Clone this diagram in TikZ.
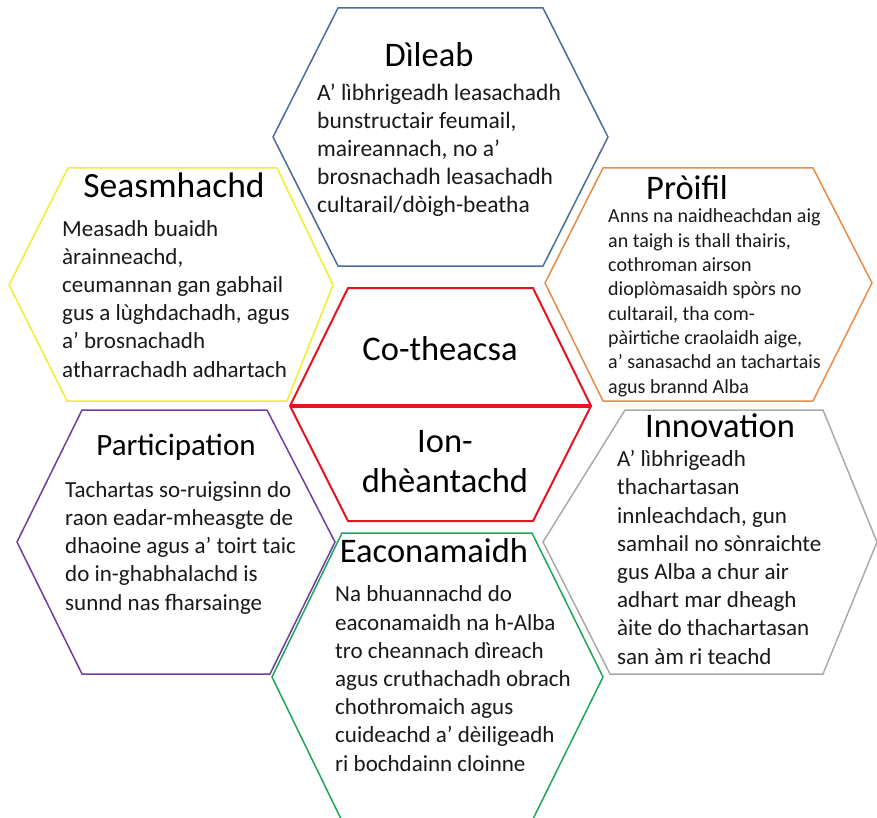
\documentclass[tikz,border=0pt]{standalone}
\usepackage{fontspec}
\setmainfont{Carlito}
\definecolor{hexblue}{RGB}{72,110,155}
\definecolor{hexyellow}{RGB}{240,240,40}
\definecolor{hexorange}{RGB}{230,140,70}
\definecolor{hexred}{RGB}{230,20,30}
\definecolor{hexpurple}{RGB}{112,60,160}
\definecolor{hexgray}{RGB}{170,170,170}
\definecolor{hexgreen}{RGB}{30,165,90}
\tikzset{
  hexline/.style={line width=1.5pt, line join=miter},
  hextitle/.style={anchor=base, inner sep=0pt, font=\fontsize{34.5}{40}\selectfont},
  % multi-line nodes: base = baseline of the last line
  hexbody/.style={anchor=base west, inner sep=0pt, align=left, text=black!90,
    font=\fontsize{23}{28.2}\selectfont},
}
\begin{document}
\begin{tikzpicture}[x=1pt,y=-1pt]
\useasboundingbox (0,0) rectangle (877,818);
\fill[white] (0,0) rectangle (877,818);

\draw[hexline,hexblue] (338,8)--(543,8)--(608,137)--(543,266)--(338,266)--(273,137)--cycle;
\node[hextitle] (dileabT) at (429,67) {Dìleab};
\node[hexbody,font=\fontsize{23.5}{28.2}\selectfont] (dileabB) at (317,213) {A’ lìbhrigeadh leasachadh\\bunstructair feumail,\\maireannach, no a’\\brosnachadh leasachadh\\cultarail/dòigh-beatha};

\draw[hexline,hexyellow] (68,168)--(277,168)--(333,285)--(287,401)--(67,401)--(9,285)--cycle;
\node[hextitle,font=\fontsize{35.5}{40}\selectfont] (seasT) at (174,198) {Seasmhachd};
\node[hexbody] (seasB) at (62,377) {Measadh buaidh\\àrainneachd,\\ceumannan gan gabhail\\gus a lùghdachadh, agus\\a’ brosnachadh\\atharrachadh adhartach};

\draw[hexline,hexorange] (603,168)--(813,168)--(872,283)--(813,401)--(603,401)--(545,283)--cycle;
\node[hextitle] (proifilT) at (687,200) {Pròifil};
\node[hexbody,font=\fontsize{20}{24.3}\selectfont] (proifilB) at (608,393) {Anns na naidheachdan aig\\an taigh is thall thairis,\\cothroman airson\\dioplòmasaidh spòrs no\\cultarail, tha com-\\pàirtiche craolaidh aige,\\a’ sanasachd an tachartais\\agus brannd Alba};

\draw[hexline,hexpurple] (82,410)--(267,410)--(335,542)--(270,674)--(82,674)--(17,542)--cycle;
\node[hextitle,font=\fontsize{31}{40}\selectfont] (partT) at (176,455) {Participation};
\node[hexbody] (partB) at (65,610) {Tachartas so-ruigsinn do\\raon eadar-mheasgte de\\dhaoine agus a’ toirt taic\\do in-ghabhalachd is\\sunnd nas fharsainge};

\draw[hexline,hexgray] (625,410)--(823,410)--(877,542)--(823,674)--(610,674)--(543,542)--cycle;
\node[hextitle] (innovT) at (720,437) {Innovation};
\node[hexbody] (innovB) at (617,664) {A’ lìbhrigeadh\\thachartasan\\innleachdach, gun\\samhail no sònraichte\\gus Alba a chur air\\adhart mar dheagh\\àite do thachartasan\\san àm ri teachd};

\draw[hexline,hexgreen] (342,533)--(532,533)--(603,677)--(532,821)--(342,821)--(272,677)--cycle;
\node[hextitle] (econT) at (434,562) {Eaconamaidh};
\node[hexbody] (econB) at (335,771) {Na bhuannachd do\\eaconamaidh na h-Alba\\tro cheannach dìreach\\agus cruthachadh obrach\\chothromaich agus\\cuideachd a’ dèiligeadh\\ri bochdainn cloinne};

\draw[hexline,hexred,line width=2pt] (348,288)--(533,288)--(591,406)--(533,521)--(348,521)--(290,406)--cycle;
\draw[hexred,line width=4pt] (290,406)--(591,406);
\node[hextitle] (cotheacsa) at (440,360) {Co-theacsa};
\node[hextitle,align=center] (iondh) at (445,492) {Ion-\\dhèantachd};
\end{tikzpicture}
\end{document}
